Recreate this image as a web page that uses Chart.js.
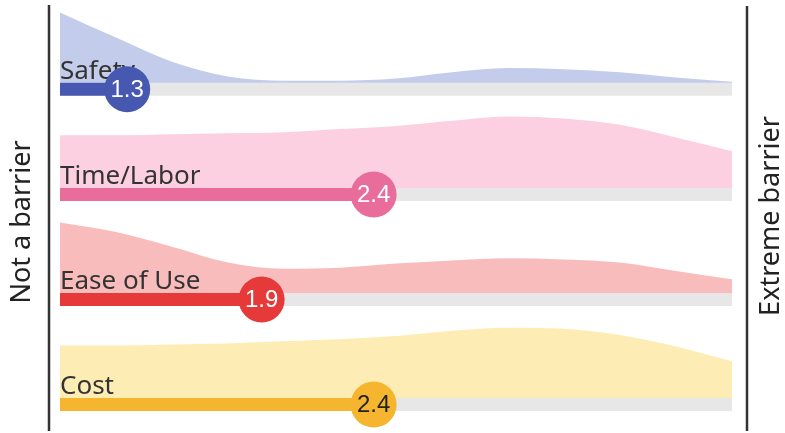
<!DOCTYPE html>
<html>
<head>
<meta charset="utf-8">
<title>Barrier ratings</title>
<script src="https://cdn.jsdelivr.net/npm/chart.js@4.4.0/dist/chart.umd.min.js"></script>
<style>
    html, body { margin: 0; padding: 0; background: #ffffff; }
    #wrap { width: 785px; height: 433px; position: relative; }
</style>
</head>
<body>
<div id="wrap"><canvas id="ridgeChart"></canvas></div>
<script>
// Data
const categories = ['Safety', 'Time/Labor', 'Ease of Use', 'Cost'];
const meanScores = [1.3, 2.4, 1.9, 2.4];
const scaleEnds = ['Not a barrier', 'Extreme barrier'];
const scaleMin = 1;
const scaleMax = 4;

// response distribution, sampled along the 1-4 scale
const densityX = [1, 1.25, 1.5, 1.75, 2, 2.25, 2.5, 2.75, 3, 3.25, 3.5, 3.75, 4];
const safetyDensity = [0.67, 0.43, 0.20, 0.06, 0.02, 0.02, 0.04, 0.10, 0.14, 0.13, 0.10, 0.05, 0.01];
const timeDensity   = [0.50, 0.50, 0.51, 0.52, 0.53, 0.56, 0.59, 0.64, 0.68, 0.66, 0.60, 0.48, 0.35];
const easeDensity   = [0.67, 0.58, 0.44, 0.29, 0.23, 0.24, 0.28, 0.31, 0.33, 0.32, 0.29, 0.21, 0.13];
const costDensity   = [0.50, 0.50, 0.51, 0.52, 0.54, 0.56, 0.59, 0.64, 0.67, 0.66, 0.60, 0.49, 0.35];
const densities = [safetyDensity, timeDensity, easeDensity, costDensity];

// Styles
const barColors  = ['#4758b0', '#e96d9a', '#e5393a', '#f5b52e'];
const areaColors = ['#c3cdeb', '#fcd0e0', '#f9bcbc', '#fdecb3'];
const valueTextColors = ['#ffffff', '#ffffff', '#ffffff', '#222222'];
const trackColor = '#e7e7e7';
const TRACK_HALF = 0.062;

// row 0 (Safety) sits at the top
function rowCenter(i) {
    return categories.length - 1 - i;
}

const datasets = [];

categories.forEach(function(cat, i) {
    const c = rowCenter(i);
    datasets.push({
        label: cat + ' distribution',
        data: densityX.map((x, k) => ({ x: x, y: c + TRACK_HALF + densities[i][k] })),
        borderWidth: 0,
        borderColor: areaColors[i],
        backgroundColor: areaColors[i],
        fill: { value: c },
        pointRadius: 0,
        tension: 0.4,
        cubicInterpolationMode: 'monotone',
        clip: false,
        order: 10
    });
});

categories.forEach(function(cat, i) {
    const c = rowCenter(i);
    datasets.push({
        label: cat + ' track',
        data: [{ x: scaleMin, y: c }, { x: scaleMax, y: c }],
        borderColor: trackColor,
        borderWidth: 13,
        borderCapStyle: 'butt',
        pointRadius: 0,
        fill: false,
        clip: false,
        order: 8
    });
    datasets.push({
        label: cat + ' mean bar',
        data: [{ x: scaleMin, y: c }, { x: meanScores[i], y: c }],
        borderColor: barColors[i],
        borderWidth: 13,
        borderCapStyle: 'butt',
        pointRadius: 0,
        fill: false,
        clip: false,
        order: 6
    });
});

const dotIndex = datasets.length;
datasets.push({
    label: 'means',
    data: categories.map((cat, i) => ({ x: meanScores[i], y: rowCenter(i) })),
    showLine: false,
    pointRadius: 23,
    pointBackgroundColor: barColors,
    pointBorderWidth: 0,
    clip: false,
    order: 1
});

// Labels, value text, side axis lines
const ridgeLabels = {
    id: 'ridgeLabels',
    beforeDatasetDraw(chart, args) {
        if (args.index !== dotIndex) return;
        const ctx = chart.ctx;
        const x = chart.scales.x;
        const y = chart.scales.y;
        ctx.save();
        ctx.font = '26px "Noto Sans", sans-serif';
        ctx.fillStyle = '#333333';
        ctx.textAlign = 'left';
        ctx.textBaseline = 'alphabetic';
        categories.forEach(function(cat, i) {
            const base = y.getPixelForValue(rowCenter(i) + TRACK_HALF);
            ctx.fillText(cat, x.getPixelForValue(scaleMin), base - 4);
        });
        ctx.restore();
    },
    afterDatasetsDraw(chart) {
        const ctx = chart.ctx;
        const area = chart.chartArea;
        const meta = chart.getDatasetMeta(dotIndex);
        ctx.save();
        ctx.font = '24px "Liberation Sans", Arial, sans-serif';
        ctx.textAlign = 'center';
        ctx.textBaseline = 'middle';
        meta.data.forEach(function(pt, i) {
            ctx.fillStyle = valueTextColors[i];
            ctx.fillText(meanScores[i].toFixed(1), pt.x, pt.y + 1);
        });

        // side rules
        ctx.strokeStyle = '#333333';
        ctx.lineWidth = 2.5;
        ctx.beginPath();
        ctx.moveTo(area.left - 11, 5);
        ctx.lineTo(area.left - 11, 431);
        ctx.moveTo(area.right + 15, 6);
        ctx.lineTo(area.right + 15, 431);
        ctx.stroke();

        // end-of-scale captions, reading upward
        ctx.fillStyle = '#222222';
        ctx.font = '27px "Noto Sans", sans-serif';
        ctx.textBaseline = 'middle';
        ctx.translate(22, 222);
        ctx.rotate(-Math.PI / 2);
        ctx.fillText(scaleEnds[0], 0, 0);
        ctx.rotate(Math.PI / 2);
        ctx.translate(771 - 22, 216 - 222);
        ctx.rotate(-Math.PI / 2);
        ctx.fillText(scaleEnds[1], 0, 0);
        ctx.restore();
    }
};

new Chart(document.getElementById('ridgeChart'), {
    type: 'line',
    data: { datasets: datasets },
    options: {
        responsive: true,
        maintainAspectRatio: false,
        animation: false,
        events: [],
        layout: { autoPadding: false, padding: { left: 60, right: 53, top: 0, bottom: 0 } },
        plugins: {
            legend: { display: false },
            tooltip: { enabled: false }
        },
        scales: {
            x: { type: 'linear', min: scaleMin, max: scaleMax, display: false },
            y: { type: 'linear', min: -0.27, max: 3.85, display: false }
        },
        elements: { line: { borderJoinStyle: 'round' } }
    },
    plugins: [ridgeLabels]
});
</script>
</body>
</html>
